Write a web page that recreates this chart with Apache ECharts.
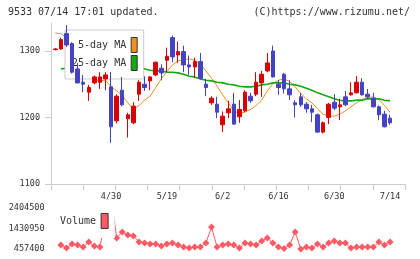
<!DOCTYPE html>
<html>
<head>
<meta charset="utf-8">
<script src="https://cdn.jsdelivr.net/npm/echarts@6/dist/echarts.min.js"></script>
<style>
html, body { margin: 0; padding: 0; background: #fff; }
#myChartDiv { width: 420px; height: 259px; }
</style>
</head>
<body>
<div id="myChartDiv"></div>
<script>
// data
var dates = ['4/15','4/16','4/17','4/18','4/21','4/22','4/23','4/24','4/25','4/28',
	'4/30','5/1','5/7','5/8','5/9','5/12','5/13','5/14','5/15','5/16',
	'5/19','5/20','5/21','5/22','5/23','5/26','5/27','5/28','5/29','5/30',
	'6/2','6/3','6/4','6/5','6/6','6/9','6/10','6/11','6/12','6/13',
	'6/16','6/17','6/18','6/19','6/20','6/23','6/24','6/25','6/26','6/27',
	'6/30','7/1','7/2','7/3','7/4','7/7','7/8','7/9','7/10','7/11',
	'7/14'];

var openPrice = [1302,1303,1326,1311,1273,1253,1238,1252,1253,1258,
	1246,1195,1241,1198,1192,1235,1250,1255,1264,1274,
	1286,1320,1294,1299,1279,1276,1284,1250,1222,1220,
	1189,1207,1220,1201,1210,1232,1235,1252,1270,1300,
	1250,1265,1243,1222,1231,1220,1213,1204,1178,1200,
	1223,1216,1231,1234,1237,1253,1235,1229,1216,1205,
	1199];
var closePrice = [1303,1317,1309,1268,1252,1250,1245,1261,1261,1264,
	1186,1232,1219,1204,1217,1253,1245,1261,1283,1267,
	1292,1291,1299,1279,1276,1284,1259,1245,1229,1208,
	1202,1213,1190,1212,1238,1225,1253,1265,1282,1261,
	1245,1243,1234,1219,1219,1213,1208,1178,1192,1220,
	1214,1219,1219,1237,1253,1234,1231,1216,1204,1186,
	1192];
var lowPrice = [1301,1302,1306,1266,1251,1238,1225,1250,1243,1241,
	1162,1191,1217,1170,1190,1225,1240,1241,1262,1256,
	1268,1283,1282,1268,1264,1259,1257,1232,1219,1199,
	1178,1199,1189,1192,1208,1222,1232,1231,1268,1260,
	1234,1236,1226,1200,1216,1207,1193,1177,1176,1190,
	1211,1196,1217,1233,1236,1233,1228,1215,1196,1185,
	1189];
var highPrice = [1304,1320,1339,1313,1282,1264,1249,1263,1268,1268,
	1268,1235,1261,1207,1223,1256,1262,1262,1284,1280,
	1305,1323,1314,1308,1293,1290,1297,1258,1232,1231,
	1209,1225,1237,1226,1241,1237,1268,1270,1297,1308,
	1256,1267,1256,1226,1237,1223,1219,1206,1194,1222,
	1235,1228,1240,1253,1262,1259,1243,1237,1218,1210,
	1204];

var ma5 = [1327,1326,1320,1306,1290,1279,1266,1257,1255,1256,
	1246,1240,1233,1222,1213,1218,1226,1232,1245,1258,
	1269,1279,1285,1287,1288,1286,1280,1270,1259,1247,
	1234,1222,1210,1206,1208,1212,1218,1226,1240,1251,
	1256,1258,1254,1246,1236,1228,1222,1213,1205,1202,
	1202,1205,1210,1216,1222,1227,1230,1231,1227,1218,
	1208];
var ma25 = ['-',1273,1274,1274,1274,1274,1274,1274,1274,1274,
	1274,1274,1274,1274,1274,1274,1273,1271,1270,1270,
	1268,1268,1267,1265,1262,1261,1258,1256,1255,1253,
	1252,1250,1249,1247,1246,1246,1247,1249,1250,1252,
	1252,1252,1250,1249,1247,1244,1241,1237,1234,1231,
	1228,1226,1225,1225,1226,1226,1228,1228,1228,1226,
	1225];

var volume = ['-',647000,505000,695000,647000,552000,790000,600000,552000,1950000,
	3000000,980000,1265000,1120000,1075000,790000,742000,695000,695000,600000,
	695000,742000,647000,552000,505000,552000,552000,742000,1500000,552000,
	647000,695000,647000,505000,742000,695000,647000,837000,980000,742000,
	552000,480000,647000,1265000,457400,552000,505000,695000,552000,742000,
	837000,742000,742000,505000,552000,552000,552000,552000,790000,647000,
	790000];

var priceTicks = [1100, 1200, 1300];
var volumeTicks = [457400, 1430950, 2404500];

// two empty slots on the right like the original
var xCats = dates.concat(['', '']);

var candles = [];
for (var i = 0; i < dates.length; i++) {
	candles.push([openPrice[i], closePrice[i], lowPrice[i], highPrice[i]]);
}

var mono = 'DejaVu Sans Mono';
var axisGrey = '#cccccc';
var textColor = '#333333';

// plain numbers, no thousands separators
function plain(v) { return String(v); }

var myChart = echarts.init(document.getElementById('myChartDiv'));

var option = {
	animation: false,
	backgroundColor: '#ffffff',
	title: [
		{
			text: '9533 07/14 17:01 updated.',
			left: 8, top: 7, padding: 0,
			textStyle: {fontFamily: mono, fontSize: 10, fontWeight: 'normal', color: textColor}
		},
		{
			text: '(C)https://www.rizumu.net/',
			right: 10, top: 7, padding: 0,
			textStyle: {fontFamily: mono, fontSize: 10, fontWeight: 'normal', color: textColor}
		}
	],
	legend: [
		{
			data: ['5-day MA', '25-day MA'],
			orient: 'vertical',
			align: 'right',
			left: 65, top: 30,
			padding: [7, 6, 8, 7],
			itemWidth: 6, itemHeight: 15, itemGap: 2,
			icon: 'rect',
			itemStyle: {borderColor: '#333', borderWidth: 1},
			backgroundColor: '#ffffff',
			borderColor: '#cccccc', borderWidth: 1,
			selectedMode: false,
			z: 2,
			textStyle: {fontFamily: mono, fontSize: 10, color: textColor}
		},
		{
			data: ['Volume'],
			orient: 'vertical',
			align: 'right',
			left: 54, top: 205,
			padding: [8, 6, 9, 6],
			itemWidth: 7, itemHeight: 15,
			icon: 'rect',
			itemStyle: {borderColor: '#333', borderWidth: 1},
			backgroundColor: '#ffffff',
			selectedMode: false,
			z: 2,
			textStyle: {fontFamily: mono, fontSize: 10, color: textColor}
		}
	],
	grid: [
		{left: 52.5, right: 16, top: 23, bottom: 75, outerBoundsMode: 'none'},   // candles
		{left: 51, right: 15, top: 23, bottom: 75, outerBoundsMode: 'none'},     // axis frame
		{left: 52.5, right: 16, top: 208, bottom: 10, outerBoundsMode: 'none'}   // volume
	],
	xAxis: [
		{
			type: 'category', gridIndex: 0, data: xCats, boundaryGap: true,
			axisLine: {show: false}, axisTick: {show: false},
			axisLabel: {
				interval: function (idx) { return idx > 0 && idx % 10 === 0; },
				margin: 8, fontFamily: mono, fontSize: 8.5, color: textColor
			},
			splitLine: {show: false}
		},
		{
			type: 'value', gridIndex: 1, min: 0, max: 11, interval: 1,
			axisLine: {show: true, onZero: false, lineStyle: {color: axisGrey}},
			axisTick: {show: true, length: 6, lineStyle: {color: axisGrey}},
			axisLabel: {show: false},
			splitLine: {show: false}
		},
		{
			type: 'category', gridIndex: 2, data: xCats, boundaryGap: true, show: false
		}
	],
	yAxis: [
		{type: 'value', gridIndex: 0, min: 1100, max: 1342, show: false},
		{
			type: 'value', gridIndex: 1, min: 1100, max: 1342,
			axisLine: {show: true, onZero: false, lineStyle: {color: axisGrey}},
			axisTick: {show: true, length: 6, customValues: priceTicks, lineStyle: {color: axisGrey}},
			axisLabel: {customValues: priceTicks, formatter: plain, margin: 11, fontFamily: mono, fontSize: 8.5, color: textColor},
			splitLine: {show: false}
		},
		{
			type: 'value', gridIndex: 2, min: 457400, max: 2404500,
			axisLine: {show: false}, axisTick: {show: false},
			axisLabel: {customValues: volumeTicks, formatter: plain, margin: 8, fontFamily: mono, fontSize: 8.5, color: textColor},
			splitLine: {show: false}
		}
	],
	series: [
		{
			name: 'price', type: 'candlestick', xAxisIndex: 0, yAxisIndex: 0,
			data: candles, barWidth: 4, z: 3,
			itemStyle: {
				color: '#d80000', color0: '#4343c3',
				borderColor: '#d80000', borderColor0: '#4343c3', borderWidth: 1
			}
		},
		{
			name: '5-day MA', type: 'line', xAxisIndex: 0, yAxisIndex: 0,
			data: ma5, showSymbol: false, z: 1,
			itemStyle: {color: '#f0901e'},
			lineStyle: {color: '#f0901e', width: 1}
		},
		{
			name: '25-day MA', type: 'line', xAxisIndex: 0, yAxisIndex: 0,
			data: ma25, showSymbol: false, z: 1,
			itemStyle: {color: '#14a814'},
			lineStyle: {color: '#14a814', width: 1.6}
		},
		{
			name: 'Volume', type: 'line', xAxisIndex: 2, yAxisIndex: 2,
			data: volume, symbol: 'diamond', symbolSize: 7, showAllSymbol: true,
			clip: true, z: 1,
			itemStyle: {color: '#ff5a64'},
			lineStyle: {color: '#ff5a64', width: 1}
		}
	]
};

myChart.setOption(option);
</script>
</body>
</html>
